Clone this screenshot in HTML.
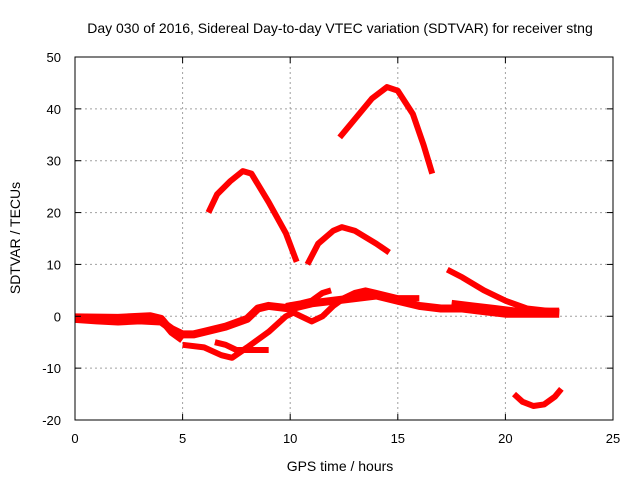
<!DOCTYPE html>
<html><head><meta charset="utf-8"><style>
body{margin:0;background:#fff;}
svg{display:block;font-family:"Liberation Sans",sans-serif;}
</style></head><body>
<svg id="chart" width="640" height="480">
<rect width="640" height="480" fill="#fff"/>
<g id="grid"></g><g id="series"></g><g id="axes"></g>
</svg>
<script>
const xTicks=[0,5,10,15,20,25];
const yTicks=[-20,-10,0,10,20,30,40,50];
const arcEvening=[[6.2,20],[6.6,23.5],[7.2,26],[7.8,28],[8.2,27.5],[9,22],[9.8,16],[10.3,10.5]];
const arcNoon=[[10.8,10],[11.3,14],[12,16.5],[12.4,17.2],[13,16.5],[14,14],[14.6,12.3]];
const arcPeak=[[12.3,34.5],[13,38],[13.8,42],[14.5,44.2],[15,43.5],[15.7,39],[16.2,33],[16.6,27.5]];
const tailDecay=[[17.3,9],[18,7.5],[19,5],[20,3],[21,1.5],[22.5,0.8]];
const dipLate=[[20.4,-15],[20.8,-16.5],[21.3,-17.3],[21.8,-17],[22.3,-15.5],[22.6,-14]];
const baseline=[[0,-0.5],[1,-0.8],[2,-1],[3,-0.8],[4,-1],[4.5,-2.5],[5,-3.5],[5.5,-3.5],[6,-3],[7,-2],[8,-0.5],[8.5,1.5],[9,2],[10,1.5],[11,2.5],[12,3],[13,3.5],[14,4],[15,3],[16,2],[17,1.5],[18,1.5],[19,1],[20,0.5],[21,0.5],[22.5,0.5]];
const baseline2=[[0,-0.2],[2,-0.3],[3.5,0],[4,-0.5],[4.5,-3],[5,-4.5]];
const lowA=[[5,-5.5],[6,-6],[6.8,-7.5],[7.3,-8],[8,-6],[9,-3],[9.8,0],[10.3,1]];
const lowB=[[6.5,-5],[7,-5.5],[7.5,-6.5],[8,-6.5],[9,-6.5]];
const midA=[[10,1],[10.5,0],[11,-1],[11.5,0],[12,2],[12.5,3.5],[13,4.5],[13.5,5],[14,4.5],[15,3.5],[16,3.5]];
const midB=[[9.8,2],[10.5,2.5],[11,3],[11.5,4.5],[11.9,5]];
const lateBand=[[17.5,2.5],[18.5,2],[19.5,1.5],[20.5,1],[22.5,1]];
const allSeries=[arcEvening,arcNoon,arcPeak,tailDecay,dipLate,baseline,baseline2,lowA,lowB,midA,midB,lateBand];
const names=['arc-evening','arc-noon','arc-peak','tail-decay','dip-late','baseline','baseline-2','low-a','low-b','mid-a','mid-b','late-band'];
const widths=[6,6,6,6,6,8,8,6,6,6,6,7];
const X0=75,X1=613,Y0=420,Y1=57;
const xs=v=>X0+(v-0)/(25-0)*(X1-X0);
const ys=v=>Y0-(v+20)/(70)*(Y0-Y1);
const NS='http://www.w3.org/2000/svg';
function mk(t,a,p){const e=document.createElementNS(NS,t);for(const k in a)e.setAttribute(k,a[k]);p.appendChild(e);return e;}
const grid=document.getElementById('grid'),axes=document.getElementById('axes'),ser=document.getElementById('series');
xTicks.forEach(t=>{const x=xs(t);
 if(t>0&&t<25){const l=mk('line',{x1:x,x2:x,y1:Y1,y2:Y0,stroke:'#a0a0a0','stroke-dasharray':'2,3'},grid);}
 const tx=mk('text',{x:x,y:443,'text-anchor':'middle','font-size':13,fill:'#000'},axes);tx.textContent=t;
 
 mk('line',{x1:x,x2:x,y1:Y0,y2:Y0-6,stroke:'#000'},axes);mk('line',{x1:x,x2:x,y1:Y1,y2:Y1+6,stroke:'#000'},axes);});
yTicks.forEach(t=>{const y=ys(t);
 if(t>-20&&t<50){const l=mk('line',{x1:X0,x2:X1,y1:y,y2:y,stroke:'#a0a0a0','stroke-dasharray':'2,3'},grid);}
 const tx=mk('text',{x:61,y:y+5,'text-anchor':'end','font-size':13,fill:'#000'},axes);tx.textContent=t;
 
 mk('line',{x1:X0,x2:X0+6,y1:y,y2:y,stroke:'#000'},axes);mk('line',{x1:X1,x2:X1-6,y1:y,y2:y,stroke:'#000'},axes);});
const fr=mk('rect',{x:X0,y:Y1,width:X1-X0,height:Y0-Y1,fill:'none',stroke:'#000'},axes);

allSeries.forEach((s,i)=>{const p=mk('polyline',{points:s.map(d=>xs(d[0])+','+ys(d[1])).join(' '),fill:'none',stroke:'#f00','stroke-width':widths[i],'stroke-linejoin':'round','stroke-linecap':'butt'},ser);
 });
let t=mk('text',{x:340,y:33,'text-anchor':'middle','font-size':14},axes);t.textContent='Day 030 of 2016, Sidereal Day-to-day VTEC variation (SDTVAR) for receiver stng';

t=mk('text',{x:340,y:471,'text-anchor':'middle','font-size':14},axes);t.textContent='GPS time / hours';

t=mk('text',{x:0,y:0,'text-anchor':'middle','font-size':14,transform:'translate(20,238) rotate(-90)'},axes);t.textContent='SDTVAR / TECUs';

</script>
</body></html>
